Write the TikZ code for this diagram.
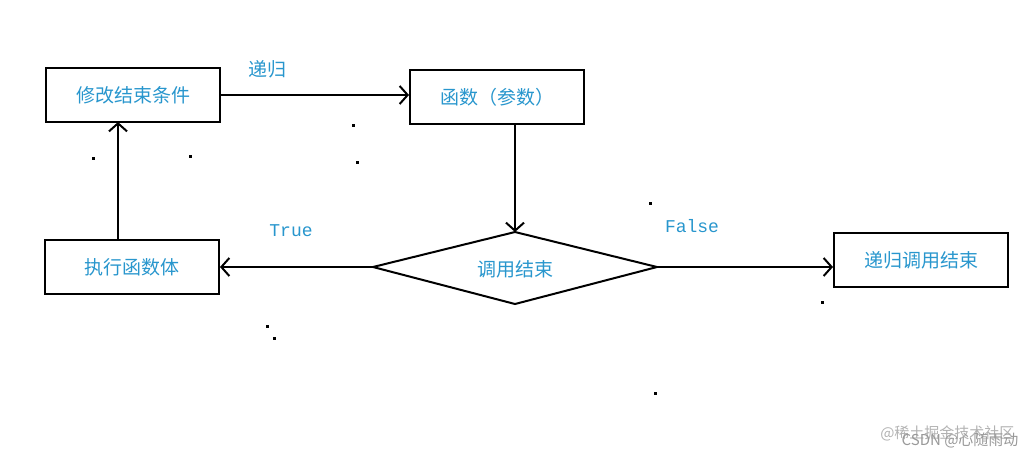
\documentclass[tikz,border=0pt]{standalone}
\usepackage{fontspec}
\newfontfamily\cjk{Noto Sans CJK SC}
\setmonofont{Liberation Mono}
\usetikzlibrary{arrows.meta}
\definecolor{txt}{RGB}{40,150,205}
\tikzset{
  box/.style={draw,line width=2pt,minimum width=174pt,minimum height=54pt,inner sep=0pt,font=\cjk\fontsize{19pt}{19pt}\selectfont,text=txt},
  conn/.style={line width=2pt,-{Straight Barb[length=8pt,width=18pt,line width=2pt]}},
  lbl/.style={text=txt,font=\fontsize{18pt}{18pt}\selectfont},
  dot/.style={fill=black,minimum size=3pt,inner sep=0pt}
}
\begin{document}
\begin{tikzpicture}[x=1pt,y=-1pt]
\useasboundingbox (0,0) rectangle (1035,459);
\node[box] (mod) at (133,95) {修改结束条件};
\node[box] (fn) at (497,97) {函数（参数）};
\node[box] (exe) at (132,267) {执行函数体};
\node[box] (end) at (921,260) {递归调用结束};
\coordinate (dt) at (515,232);
\coordinate (dl) at (373,267);
\coordinate (dr) at (657,267);
\coordinate (db) at (515,304);
\coordinate (fs) at (515,124);
\coordinate (et) at (118,240);
\coordinate (mb) at (118,122);
\draw[line width=2pt] (dt) -- (dr) -- (db) -- (dl) -- cycle;
\node[lbl,font=\cjk\fontsize{19pt}{19pt}\selectfont] (dtext) at (515,269) {调用结束};
\draw[conn] (mod.east) -- (fn.west |- mod.east);
\draw[conn] (fs) -- (dt);
\draw[conn] (dl) -- (exe.east);
\draw[conn] (dr) -- (end.west |- dr);
\draw[conn] (et) -- (mb);
\node[lbl,font=\cjk\fontsize{19pt}{19pt}\selectfont] (l1) at (267,69) {递归};
\node[lbl,font=\ttfamily\fontsize{18pt}{18pt}\selectfont] (l2) at (291,231) {True};
\node[lbl,font=\ttfamily\fontsize{18pt}{18pt}\selectfont] (l3) at (692,226) {False};
\node[dot] (p1) at (353,125) {};
\node[dot] (p2) at (357,162) {};
\node[dot] (p3) at (190,156) {};
\node[dot] (p4) at (93,158) {};
\node[dot] (p5) at (650,203) {};
\node[dot] (p6) at (822,302) {};
\node[dot] (p7) at (267,326) {};
\node[dot] (p8) at (274,338) {};
\node[dot] (p9) at (655,393) {};
\node[text=gray!60,font=\cjk\fontsize{15pt}{15pt}\selectfont,anchor=east] (w1) at (1018,433) {@稀土掘金技术社区};
\node[text=gray!80,font=\cjk\fontsize{15pt}{15pt}\selectfont,anchor=east] (w2) at (1022,440) {CSDN @心随雨动};
\end{tikzpicture}
\end{document}
